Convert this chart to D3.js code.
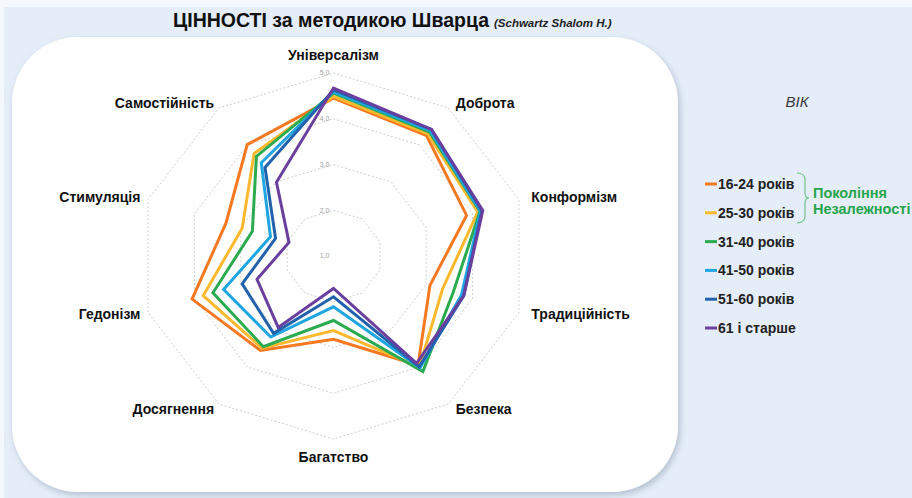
<!DOCTYPE html>
<html><head><meta charset="utf-8">
<script src="https://cdn.jsdelivr.net/npm/d3@7"></script>
<style>
html,body{margin:0;padding:0;background:#f4f7fb;}
svg{display:block;font-family:"Liberation Sans",Arial,sans-serif;}
</style></head>
<body>
<svg id="chart" width="912" height="498"></svg>
<script>
// ---- data ----
const categories = ["Універсалізм","Доброта","Конформізм","Традиційність","Безпека","Багатство","Досягнення","Гедонізм","Стимуляція","Самостійність"];
const seriesNames = ["16-24 років","25-30 років","31-40 років","41-50 років","51-60 років","61 і старше"];
const age16_24 = [4.45,4.25,3.87,3.08,3.95,2.82,3.55,4.05,3.32,4.01];
const age25_30 = [4.49,4.30,4.11,3.35,4.00,2.63,3.49,3.81,2.97,3.77];
const age31_40 = [4.56,4.35,4.16,3.58,4.12,2.41,3.45,3.60,2.75,3.69];
const age41_50 = [4.59,4.38,4.17,3.76,4.02,2.11,3.19,3.37,2.36,3.52];
const age51_60 = [4.63,4.42,4.20,3.81,3.99,1.89,3.09,2.97,2.25,3.39];
const age61    = [4.67,4.42,4.22,3.81,3.90,1.71,2.93,2.65,1.96,2.99];
const tickValues = [1,2,3,4,5];
const tickLabels = ["1,0","2,0","3,0","4,0","5,0"];
const titleMain = "ЦІННОСТІ за методикою Шварца";
const titleSub = "(Schwartz Shalom H.)";
const legendTitle = "ВІК";
const groupLabel = ["Покоління","Незалежності"];

const seriesValues = [age16_24,age25_30,age31_40,age41_50,age51_60,age61];
const colors = ["#f47920","#fdb92e","#2bab4f","#1fa5e0","#2262ad","#6a3f9e"];

const svg = d3.select("#chart");
const defs = svg.append("defs");
const f = defs.append("filter").attr("id","shadow").attr("x","-10%").attr("y","-10%").attr("width","120%").attr("height","120%");
f.append("feDropShadow").attr("dx",2).attr("dy",3).attr("stdDeviation",3).attr("flood-color","#8c9bb0").attr("flood-opacity",0.55);

// background
svg.append("rect").attr("x",4).attr("y",7).attr("width",908).attr("height",491).attr("fill","#e4edf8");
// panel
svg.append("rect").attr("x",12).attr("y",37).attr("width",666).attr("height",455).attr("rx",66).attr("ry",66)
  .attr("fill","#ffffff").attr("filter","url(#shadow)");

// title
const t = svg.append("text").attr("x",173).attr("y",27).attr("fill","#111");
t.append("tspan").attr("font-size",19.5).attr("font-weight","bold").text(titleMain);
t.append("tspan").attr("font-size",11.5).attr("font-weight","bold").attr("font-style","italic").attr("dx",5).attr("fill","#222").text(titleSub);

// radar
const cx = 333.5, cy = 256;
const rY = d3.scaleLinear().domain([1,5]).range([0,183]);
const rX = d3.scaleLinear().domain([1,5]).range([0,195]);
const angle = d3.scaleLinear().domain([0,categories.length]).range([0,2*Math.PI]);
const px = (i,v)=> cx + rX(v)*Math.sin(angle(i));
const py = (i,v)=> cy - rY(v)*Math.cos(angle(i));

const g = svg.append("g");
// grid rings
tickValues.filter(v=>v>1).forEach(v=>{
  const pts = categories.map((c,i)=>[px(i,v),py(i,v)]);
  g.append("path").attr("d", d3.line().curve(d3.curveLinearClosed)(pts))
   .attr("fill","none").attr("stroke","#cfcfcf").attr("stroke-width",1).attr("stroke-dasharray","2,2");
});
// tick labels
g.selectAll(".tick").data(tickValues).enter().append("text")
  .attr("x",cx-9).attr("y",d=>py(0,d)).attr("dy","0.35em")
  .attr("text-anchor","middle").attr("font-size",7).attr("fill","#a0a0a0")
  .text((d,i)=>tickLabels[i]);

// series
const line = d3.line().curve(d3.curveLinearClosed);
seriesValues.forEach((vals,s)=>{
  const pts = vals.map((v,i)=>[px(i,v),py(i,v)]);
  g.append("path").attr("d",line(pts)).attr("fill","none")
   .attr("stroke",colors[s]).attr("stroke-width",3).attr("stroke-linejoin","miter");
});

// category labels
categories.forEach((c,i)=>{
  const a = angle(i), s = Math.sin(a), co = Math.cos(a);
  const anchor = s>0.01 ? "start" : (s<-0.01 ? "end" : "middle");
  const padX = s>0.01 ? 13 : 8;
  const padY = Math.abs(co)>0.99 ? 18 : 6;
  const x = cx + (rX(5)+padX)*s;
  const y = cy - (rY(5)+padY)*co;
  g.append("text").attr("x",x).attr("y",y).attr("dy","0.35em").attr("text-anchor",anchor)
   .attr("font-size",14).attr("font-weight","bold").attr("fill","#111").text(c);
});

// legend
svg.append("text").attr("x",797).attr("y",102).attr("dy","0.35em").attr("text-anchor","middle")
  .attr("font-size",15).attr("font-style","italic").attr("fill","#3a3a3a").text(legendTitle);
const lg = svg.append("g");
const ly = d3.scalePoint().domain(seriesNames).range([184,328]);
seriesNames.forEach((n,s)=>{
  lg.append("line").attr("x1",705).attr("x2",717).attr("y1",ly(n)).attr("y2",ly(n))
    .attr("stroke",colors[s]).attr("stroke-width",3);
  lg.append("text").attr("x",718).attr("y",ly(n)).attr("dy","0.36em").attr("font-size",14)
    .attr("font-weight","bold").attr("fill","#222").text(n);
});
// bracket
const yb0 = ly(seriesNames[0])-11, yb1 = ly(seriesNames[1])+10, ym=(yb0+yb1)/2;
lg.append("path").attr("d",`M797,${yb0} Q805,${yb0} 805,${yb0+7} L805,${ym-5} Q805,${ym} 809,${ym} Q805,${ym} 805,${ym+5} L805,${yb1-7} Q805,${yb1} 797,${yb1}`)
  .attr("fill","none").attr("stroke","#74c68c").attr("stroke-width",1.2);
groupLabel.forEach((tx,k)=>{
  lg.append("text").attr("x",813).attr("y",193+k*15.5).attr("dy","0.35em").attr("font-size",14.5)
    .attr("font-weight","bold").attr("fill","#27a54c").text(tx);
});
</script>
</body></html>
